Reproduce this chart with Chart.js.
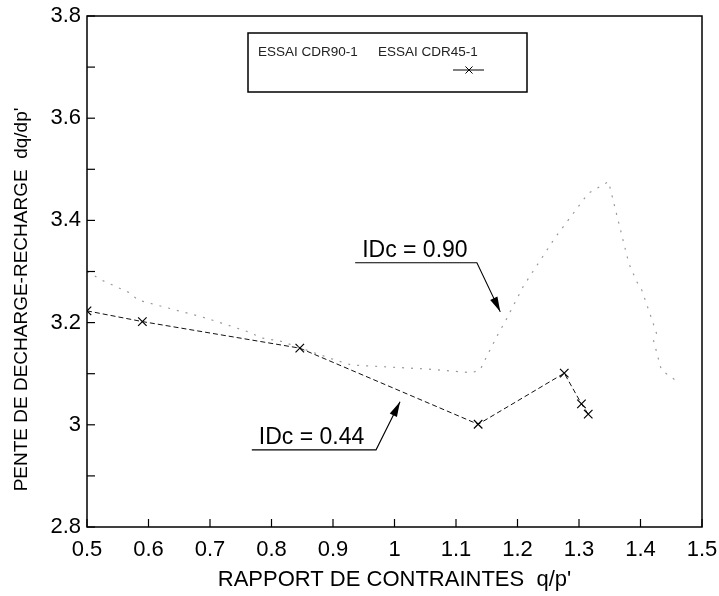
<!DOCTYPE html>
<html>
<head>
<meta charset="utf-8">
<script src="https://cdn.jsdelivr.net/npm/chart.js@4.4.1/dist/chart.umd.min.js"></script>
<style>
  html, body { margin: 0; padding: 0; background: #fff; }
</style>
</head>
<body>
<canvas id="myChart" width="719" height="596"></canvas>
<script>
// ESSAI CDR45-1 (crosses, dashed)
const cdr45X = [0.5, 0.59, 0.846, 1.136, 1.276, 1.304, 1.315];
const cdr45Y = [3.223, 3.202, 3.15, 3.001, 3.101, 3.041, 3.021];

// ESSAI CDR90-1 (faint dotted)
const cdr90X = [0.5, 0.524, 0.57, 0.583, 0.643, 0.687, 0.719, 0.762, 0.784, 0.817, 0.903, 0.93,
  1.055, 1.125, 1.139, 1.155, 1.169, 1.18, 1.188, 1.209, 1.218, 1.261, 1.315, 1.348,
  1.381, 1.394, 1.402, 1.418, 1.426, 1.421, 1.434, 1.456];
const cdr90Y = [3.3, 3.283, 3.258, 3.244, 3.225, 3.211, 3.199, 3.182, 3.17, 3.163, 3.127, 3.117,
  3.109, 3.102, 3.107, 3.146, 3.179, 3.202, 3.221, 3.27, 3.287, 3.366, 3.453, 3.476,
  3.316, 3.28, 3.264, 3.208, 3.179, 3.166, 3.107, 3.088];

const seriesNames = ["ESSAI CDR90-1", "ESSAI CDR45-1"];
const yTitle = "PENTE DE DECHARGE-RECHARGE  dq/dp'";

// labels with arrows, in data units
const notes = [
  { text: "IDc = 0.90", x0: 0.936, x1: 1.134, yLine: 3.317, tipX: 1.172, tipY: 3.221 },
  { text: "IDc = 0.44", x0: 0.768, x1: 0.970, yLine: 2.951, tipX: 1.009, tipY: 3.045 },
];

const FONT = "'Liberation Sans', Arial, Helvetica, sans-serif";

function toPoints(xs, ys) {
  return xs.map((x, i) => ({ x: x, y: ys[i] }));
}

function fmt(v) {
  return String(Number(v.toFixed(1)));
}

const decor = {
  id: "decor",
  afterDatasetsDraw(chart) {
    const { ctx, chartArea: a, scales } = chart;
    const x = scales.x, y = scales.y;
    ctx.save();
    ctx.strokeStyle = "#000";
    ctx.lineWidth = 1.2;
    ctx.setLineDash([]);

    // inward ticks
    x.ticks.forEach((t) => {
      const px = x.getPixelForValue(t.value);
      ctx.beginPath();
      ctx.moveTo(px, a.bottom);
      ctx.lineTo(px, a.bottom - 8);
      ctx.stroke();
    });
    y.ticks.forEach((t) => {
      const py = y.getPixelForValue(t.value);
      ctx.beginPath();
      ctx.moveTo(a.left, py);
      ctx.lineTo(a.left + 8, py);
      ctx.stroke();
    });

    // y axis title (sits a little below centre in the original)
    ctx.save();
    ctx.translate(22, (a.top + a.bottom) / 2 + 28);
    ctx.rotate(-Math.PI / 2);
    ctx.fillStyle = "#000";
    ctx.font = "19px " + FONT;
    ctx.textAlign = "center";
    ctx.textBaseline = "middle";
    ctx.fillText(yTitle, 0, 0);
    ctx.restore();

    // legend box
    const lx = a.left + 161, ly = a.top + 17, lw = 279, lh = 59;
    ctx.lineWidth = 1.5;
    ctx.fillStyle = "#fff";
    ctx.fillRect(lx, ly, lw, lh);
    ctx.strokeRect(lx, ly, lw, lh);
    ctx.fillStyle = "#222";
    ctx.font = "13.5px " + FONT;
    ctx.textBaseline = "middle";
    ctx.textAlign = "left";
    ctx.fillText(seriesNames[0], lx + 10, ly + 19);
    ctx.fillText(seriesNames[1], lx + 130, ly + 19);
    // CDR45 symbol
    ctx.lineWidth = 1;
    ctx.beginPath();
    ctx.moveTo(lx + 205, ly + 37);
    ctx.lineTo(lx + 236, ly + 37);
    ctx.stroke();
    Chart.helpers.drawPoint(ctx, { pointStyle: "crossRot", radius: 5, borderWidth: 1 }, lx + 221, ly + 37);

    // annotations
    ctx.font = "23px " + FONT;
    ctx.textBaseline = "alphabetic";
    notes.forEach((n) => {
      const x0 = x.getPixelForValue(n.x0), x1 = x.getPixelForValue(n.x1);
      const yl = y.getPixelForValue(n.yLine);
      const tx = x.getPixelForValue(n.tipX), ty = y.getPixelForValue(n.tipY);
      ctx.fillStyle = "#000";
      ctx.fillText(n.text, x0 + 7, yl - 6);
      ctx.lineWidth = 1.1;
      ctx.beginPath();
      ctx.moveTo(x0, yl);
      ctx.lineTo(x1, yl);
      ctx.lineTo(tx, ty);
      ctx.stroke();
      // arrow head
      const ang = Math.atan2(ty - yl, tx - x1);
      const L = 15, W = 4;
      ctx.beginPath();
      ctx.moveTo(tx, ty);
      ctx.lineTo(tx - L * Math.cos(ang) + W * Math.sin(ang), ty - L * Math.sin(ang) - W * Math.cos(ang));
      ctx.lineTo(tx - L * Math.cos(ang) - W * Math.sin(ang), ty - L * Math.sin(ang) + W * Math.cos(ang));
      ctx.closePath();
      ctx.fill();
    });

    // plot frame
    ctx.lineWidth = 1.5;
    ctx.strokeRect(a.left, a.top, a.right - a.left, a.bottom - a.top);
    ctx.restore();
  },
};

const config = {
  type: "scatter",
  data: {
    datasets: [
      {
        label: seriesNames[0],
        data: toPoints(cdr90X, cdr90Y),
        showLine: true,
        borderColor: "#999",
        borderWidth: 1.2,
        borderDash: [2, 7],
        pointRadius: 0,
        tension: 0,
      },
      {
        label: seriesNames[1],
        data: toPoints(cdr45X, cdr45Y),
        showLine: true,
        borderColor: "#111",
        borderWidth: 1,
        borderDash: [5, 3],
        pointStyle: "crossRot",
        pointRadius: 6,
        pointBorderWidth: 1.2,
        pointBorderColor: "#000",
        tension: 0,
      },
    ],
  },
  options: {
    responsive: false,
    animation: false,
    devicePixelRatio: 1,
    layout: { padding: { top: 16, right: 17, left: 0, bottom: 0 } },
    plugins: {
      legend: { display: false },
      tooltip: { enabled: false },
    },
    scales: {
      x: {
        type: "linear",
        min: 0.5,
        max: 1.5,
        afterFit: (s) => { s.height = 69; s.paddingLeft = 0; s.paddingRight = 0; },
        ticks: {
          stepSize: 0.1,
          padding: 10,
          color: "#000",
          font: { family: FONT, size: 22 },
          maxRotation: 0,
          callback: (v) => fmt(v),
        },
        grid: { drawOnChartArea: false, drawTicks: false },
        border: { display: false },
        title: {
          display: true,
          text: "RAPPORT DE CONTRAINTES  q/p'",
          color: "#000",
          font: { family: FONT, size: 22 },
          padding: { top: 0, bottom: 3 },
        },
      },
      y: {
        type: "linear",
        min: 2.8,
        max: 3.8,
        afterFit: (s) => { s.width = 87; s.paddingTop = 0; s.paddingBottom = 0; },
        ticks: {
          stepSize: 0.1,
          padding: 6,
          color: "#000",
          font: { family: FONT, size: 22 },
          callback: (v) => (Math.round(v * 10) % 2 === 0 ? fmt(v) : ""),
        },
        grid: { drawOnChartArea: false, drawTicks: false },
        border: { display: false },
        title: { display: false },
      },
    },
  },
  plugins: [decor],
};

var myChart = new Chart(document.getElementById("myChart"), config);
</script>
</body>
</html>
